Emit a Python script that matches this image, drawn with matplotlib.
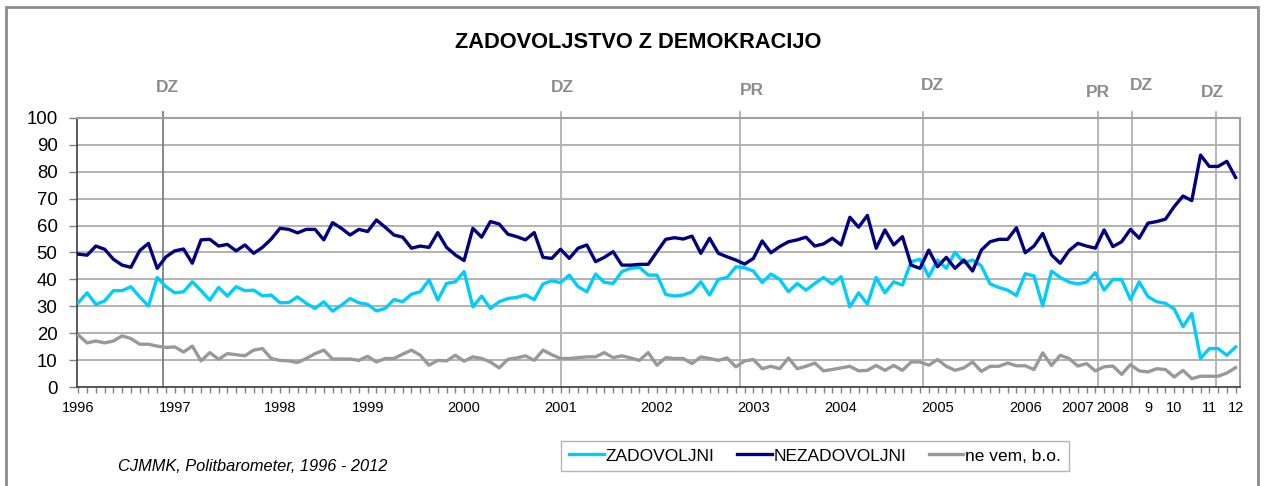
import matplotlib.pyplot as plt
from matplotlib.patches import Rectangle

plt.rcParams['font.family'] = ['Liberation Sans', 'DejaVu Sans']

# survey values (%), one per Politbarometer wave
zadovoljni = [31.4, 35.0, 30.7, 32.0, 35.8, 35.8, 37.3, 33.5, 30.1, 40.7,
              37.3, 35.0, 35.4, 39.1, 35.8, 32.3, 37.0, 33.8, 37.3, 35.8,
              36.0, 33.9, 34.2, 31.3, 31.4, 33.5, 31.1, 29.2, 31.7, 28.2,
              30.4, 32.9, 31.3, 30.7, 28.3, 29.2, 32.5, 31.7, 34.5, 35.4,
              39.8, 32.3, 38.5, 39.1, 42.9, 29.8, 33.8, 29.2, 31.7, 32.9,
              33.3, 34.2, 32.5, 38.3, 39.5, 38.8, 41.6, 37.3, 35.4, 42.0,
              38.9, 38.5, 42.9, 44.1, 44.5, 41.6, 41.6, 34.4, 33.8, 34.2,
              35.4, 39.1, 34.2, 40.0, 40.7, 44.7, 44.3, 43.1, 38.8, 42.0,
              40.0, 35.4, 38.5, 36.0, 38.5, 40.7, 38.3, 41.0, 29.8, 35.0,
              30.8, 40.7, 35.0, 39.1, 37.9, 46.6, 47.5, 41.0, 47.2, 44.1,
              50.1, 46.2, 47.2, 45.0, 38.3, 37.0, 36.0, 34.0, 42.1, 41.3,
              30.1, 43.1, 40.7, 39.0, 38.3, 39.0, 42.5, 36.0, 40.0, 39.9,
              32.5, 39.1, 33.6, 31.7, 31.1, 29.0, 22.4, 27.3, 10.6, 14.3,
              14.3, 11.8, 14.9]

nezadovoljni = [49.4, 49.0, 52.4, 51.2, 47.5, 45.3, 44.5, 50.7, 53.4, 44.1,
                48.4, 50.6, 51.3, 46.0, 54.7, 54.9, 52.4, 53.0, 50.6, 52.8,
                49.7, 51.9, 55.0, 59.0, 58.6, 57.3, 58.6, 58.6, 54.7, 61.1,
                59.0, 56.5, 58.6, 57.8, 62.1, 59.4, 56.5, 55.7, 51.6, 52.4,
                51.9, 57.4, 51.9, 49.1, 47.0, 59.0, 55.7, 61.5, 60.6, 56.8,
                55.9, 54.7, 57.4, 48.2, 47.8, 51.2, 47.8, 51.6, 52.8, 46.6,
                48.2, 50.3, 45.3, 45.3, 45.6, 45.6, 50.3, 54.9, 55.5, 55.0,
                56.1, 49.7, 55.3, 49.7, 48.4, 47.2, 45.7, 47.8, 54.3, 49.9,
                52.2, 54.0, 54.7, 55.7, 52.4, 53.2, 55.3, 52.8, 63.1, 59.4,
                63.8, 51.6, 58.4, 52.8, 55.9, 45.3, 44.1, 50.9, 44.7, 48.2,
                44.1, 47.2, 43.1, 50.9, 54.0, 54.9, 54.9, 59.2, 49.9, 52.4,
                57.1, 49.1, 46.0, 50.7, 53.4, 52.4, 51.6, 58.4, 52.2, 54.0,
                58.6, 55.3, 60.9, 61.5, 62.4, 67.1, 71.0, 69.3, 86.2, 82.0,
                82.0, 83.9, 77.9]

ne_vem = [19.3, 16.4, 17.1, 16.4, 17.1, 19.0, 18.0, 15.9, 15.9, 15.2,
          14.7, 14.9, 13.0, 15.2, 9.7, 12.8, 10.3, 12.4, 12.0, 11.6,
          13.7, 14.3, 10.6, 9.9, 9.7, 9.1, 10.6, 12.4, 13.7, 10.4,
          10.4, 10.4, 9.9, 11.4, 9.3, 10.6, 10.6, 12.2, 13.7, 11.8,
          8.1, 9.9, 9.7, 11.8, 9.6, 11.2, 10.6, 9.3, 7.1, 10.3,
          10.8, 11.6, 9.9, 13.7, 12.0, 10.6, 10.6, 10.9, 11.2, 11.2,
          12.8, 10.9, 11.6, 10.8, 9.9, 12.8, 8.1, 10.9, 10.6, 10.6,
          8.7, 11.2, 10.6, 9.9, 10.8, 7.5, 9.7, 10.2, 6.8, 7.7,
          6.8, 10.8, 6.8, 7.7, 8.9, 6.0, 6.5, 7.1, 7.7, 6.0,
          6.2, 8.0, 6.2, 8.0, 6.2, 9.3, 9.3, 8.1, 10.2, 7.7,
          6.2, 7.1, 9.3, 5.8, 7.7, 7.7, 8.9, 7.9, 7.9, 6.5,
          12.7, 8.0, 11.8, 10.6, 7.8, 8.7, 6.0, 7.5, 7.8, 4.7,
          8.3, 6.0, 5.6, 6.8, 6.5, 3.7, 6.2, 3.1, 4.0, 4.0,
          4.0, 5.2, 7.2]

tick_pos = [0, 11, 23, 33, 44, 55, 66, 77, 87, 98, 108, 114, 118, 122, 125, 129, 132]
tick_lbl = ['1996', '1997', '1998', '1999', '2000', '2001', '2002', '2003', '2004',
            '2005', '2006', '2007', '2008', '9', '10', '11', '12']

# elections: DZ = parliament, PR = president
election_pos = [9.66, 55.0, 75.5, 96.3, 116.3, 120.2, 129.8]
election_lbl = ['DZ', 'DZ', 'PR', 'DZ', 'PR', 'DZ', 'DZ']
election_lbl_x = [10.2, 55.2, 76.8, 97.4, 116.3, 121.3, 129.3]
election_lbl_y = [111.2, 111.2, 110.4, 111.9, 109.3, 111.9, 109.3]

x = list(range(len(zadovoljni)))

fig = plt.figure(figsize=(12.64, 4.86), dpi=100)
fig.patches.append(Rectangle((6 / 1264, -0.05), 1252 / 1264, 1.05 - 7 / 486,
                             transform=fig.transFigure, fill=False,
                             edgecolor='#8c8c8c', lw=2))

ax = fig.add_axes([77 / 1264, 1 - 387 / 486, 1163 / 1264, 269 / 486])

ax.plot(x, zadovoljni, color='#00ccff', lw=2.4, label='ZADOVOLJNI', zorder=3)
ax.plot(x, nezadovoljni, color='#000080', lw=2.4, label='NEZADOVOLJNI', zorder=3)
ax.plot(x, ne_vem, color='#999999', lw=2.4, label='ne vem, b.o.', zorder=3)

for i, p in enumerate(election_pos):
    c = '#7f7f7f' if i == 0 else '#b0b0b0'
    ax.plot([p, p], [0, 102.2], color=c, lw=1.3, clip_on=False, zorder=1)
for lx, ly, t in zip(election_lbl_x, election_lbl_y, election_lbl):
    ax.text(lx, ly, t, ha='center', va='center', fontsize=12.5,
            fontweight='bold', color='#8c8c8c', clip_on=False)

ax.set_xlim(-0.15, 132.5)
ax.set_ylim(0, 100)
ax.set_yticks(range(0, 101, 10))
ax.yaxis.grid(True, color='#a6a6a6', lw=1.2)
ax.set_axisbelow(True)
ax.set_xticks(tick_pos, tick_lbl)
ax.set_xticks(x, minor=True)
ax.tick_params(axis='x', which='both', length=4, width=1, color='#808080',
               labelsize=10.5, pad=6)
ax.tick_params(axis='y', length=6, width=1, color='#808080', labelsize=13.4, pad=8)

for s in ['top', 'right']:
    ax.spines[s].set_color('#a0a0a0')
    ax.spines[s].set_linewidth(1.5)
for s in ['left', 'bottom']:
    ax.spines[s].set_color('#404040')
    ax.spines[s].set_linewidth(1.2)

fig.text(638 / 1264, 1 - 42 / 486, 'ZADOVOLJSTVO Z DEMOKRACIJO',
         ha='center', va='center', fontsize=15.7, fontweight='bold')
fig.text(118 / 1264, 1 - 466 / 486, 'CJMMK, Politbarometer, 1996 - 2012',
         ha='left', va='center', fontsize=11.8, style='italic')

leg = fig.legend(loc='center', bbox_to_anchor=(815 / 1264, 1 - 456 / 486), ncol=3,
                 frameon=True, fancybox=False, edgecolor='#a0a0a0', fontsize=12.5,
                 handlelength=2.0, handletextpad=0.1, columnspacing=1.3,
                 borderpad=0.45)
leg.get_frame().set_linewidth(1)

fig.savefig('out.png', dpi=100)
